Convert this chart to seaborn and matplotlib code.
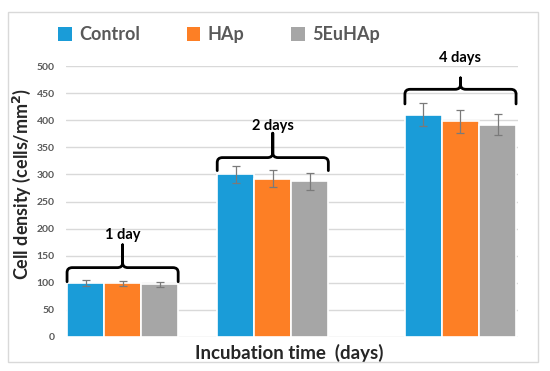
import numpy as np
import pandas as pd
import matplotlib
matplotlib.use("Agg")
import matplotlib.pyplot as plt
import seaborn as sns
from matplotlib.patches import Patch, Rectangle, PathPatch
from matplotlib.path import Path

# data
groups = ["Control", "HAp", "5EuHAp"]
days = ["1 day", "2 days", "4 days"]
control = [100, 300, 410]
hap = [99, 292, 398]
euhap = [97, 287, 392]
control_err = [5, 15, 21]
hap_err = [5, 16, 21]
euhap_err = [5, 15, 19]

# layout
group_pos = [0, 1, 2.25]
colors = ["#1a9cd8", "#fd7f25", "#a6a6a6"]
brace_end = [102, 307, 430]
brace_line = [128, 331, 457]
brace_tip = [170, 376, 478]
label_y = [188, 389, 515]

rows = []
for g, vals in zip(groups, [control, hap, euhap]):
    for p, v in zip(group_pos, vals):
        rows.append({"pos": p, "value": v, "group": g})
df = pd.DataFrame(rows)
errs = [control_err, hap_err, euhap_err]

sns.set_style("white")
plt.rcParams["font.family"] = ["Lato", "DejaVu Sans"]

fig = plt.figure(figsize=(5.5, 3.71), dpi=100)
ax = fig.add_axes([66 / 550, 1 - 337 / 371, 452 / 550, 271 / 371])

sns.barplot(data=df, x="pos", y="value", hue="group", hue_order=groups,
            palette=colors, native_scale=True, width=0.74, legend=False,
            edgecolor="white", linewidth=1.2, saturation=1, ax=ax)

bars = list(ax.containers)
for cont, e in zip(bars, errs):
    xs = [b.get_x() + b.get_width() / 2 for b in cont.patches]
    ys = [b.get_height() for b in cont.patches]
    ax.errorbar(xs, ys, yerr=e, fmt="none", ecolor="#7a7a7a", elinewidth=0.9,
                capsize=3, capthick=0.9, zorder=5)


def brace(ax, x0, x1, y_end, y_line, y_tip):
    rx = 0.035
    ry = 9
    xm = (x0 + x1) / 2
    verts = [(x0, y_end), (x0, y_line - ry), (x0, y_line), (x0 + rx, y_line),
             (xm - rx, y_line), (xm, y_line), (xm, y_line + ry), (xm, y_tip),
             (xm, y_line + ry), (xm, y_line), (xm + rx, y_line),
             (x1 - rx, y_line), (x1, y_line), (x1, y_line - ry), (x1, y_end)]
    codes = [Path.MOVETO, Path.LINETO, Path.CURVE3, Path.CURVE3,
             Path.LINETO, Path.CURVE3, Path.CURVE3, Path.LINETO,
             Path.LINETO, Path.CURVE3, Path.CURVE3,
             Path.LINETO, Path.CURVE3, Path.CURVE3, Path.LINETO]
    ax.add_patch(PathPatch(Path(verts, codes), facecolor="none", edgecolor="black",
                           lw=2.0, capstyle="round", joinstyle="round",
                           clip_on=False, zorder=6))


for i, d in enumerate(days):
    first = bars[0].patches[i]
    last = bars[-1].patches[i]
    x0 = first.get_x()
    x1 = last.get_x() + last.get_width()
    brace(ax, x0, x1, brace_end[i], brace_line[i], brace_tip[i])
    ax.text((x0 + x1) / 2, label_y[i], d, ha="center", va="center",
            fontsize=10.5, fontweight="bold", color="black", clip_on=False)

ax.set_xlim(-0.377, 2.633)
ax.set_ylim(0, 500)
ax.set_yticks(np.arange(0, 501, 50))
ax.set_xticks([])
ax.yaxis.grid(True, color="#d9d9d9", lw=1)
ax.set_axisbelow(True)
for s in ax.spines.values():
    s.set_visible(False)
ax.tick_params(axis="y", length=0, pad=8, labelsize=7.5, labelcolor="#595959")
for t in ax.get_yticklabels():
    t.set_fontweight("bold")

ax.set_xlabel("Incubation time  (days)", fontsize=13.5, fontweight="bold")
ax.set_ylabel("Cell density (cells/mm$^\\mathbf{2}$)", fontsize=13, fontweight="bold")
ax.xaxis.set_label_coords(0.493, -0.025)
ax.yaxis.set_label_coords(-0.073, 0.565)

handles = [Patch(facecolor=c, edgecolor="none") for c in colors]
leg = fig.legend(handles, groups, loc="center", bbox_to_anchor=(0.398, 0.906),
                 ncol=3, frameon=False, handlelength=0.75, handleheight=0.75,
                 handletextpad=0.4, columnspacing=2.6,
                 prop={"size": 13, "weight": "bold"})
for t in leg.get_texts():
    t.set_color("#595959")

fig.add_artist(Rectangle((8 / 550, 1 - 362 / 371), 530 / 550, 350 / 371,
                         transform=fig.transFigure, fill=False,
                         edgecolor="#d9d9d9", lw=1))

fig.savefig("out.png", dpi=100)
